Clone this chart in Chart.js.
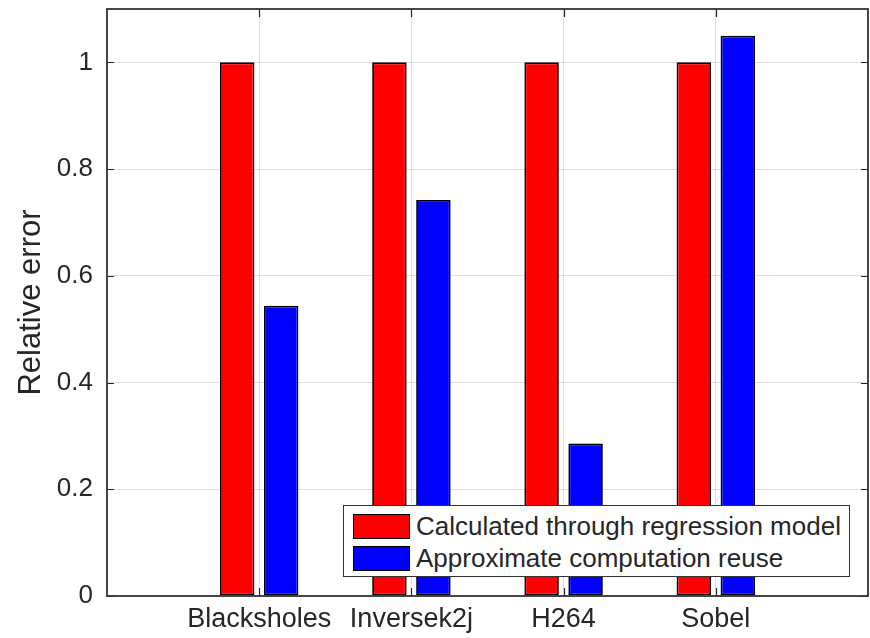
<!DOCTYPE html>
<html>
<head>
<meta charset="utf-8">
<title>Relative error</title>
<script src="https://cdn.jsdelivr.net/npm/chart.js@4/dist/chart.umd.min.js"></script>
<style>
  html, body { margin: 0; padding: 0; background: #fff; }
  #wrap { position: relative; width: 870px; height: 638px; }
  #legend {
    position: absolute; left: 343px; top: 505px; width: 505px; height: 70px;
    border: 1.5px solid #333; background: #fff; box-sizing: content-box;
    font-family: 'Liberation Sans', Arial, Helvetica, sans-serif; font-size: 26px; color: #262626;
  }
  #legend .row { position: absolute; left: 9px; height: 25px; display: flex; align-items: center; white-space: nowrap; }
  #legend .sw { width: 55px; height: 23px; border: 1.8px solid #000; margin-right: 6px; flex: none; }
</style>
</head>
<body>
<div id="wrap">
  <canvas id="c" width="870" height="638"></canvas>
  <div id="legend"></div>
</div>
<script>
// Benchmarks along the x axis
const categories = ['Blacksholes', 'Inversek2j', 'H264', 'Sobel'];
// Relative error per benchmark
const regressionModel = [1, 1, 1, 1];
const computationReuse = [0.544, 0.742, 0.286, 1.05];
// Y axis ticks
const yTicks = [0, 0.2, 0.4, 0.6, 0.8, 1];
const seriesNames = ['Calculated through regression model', 'Approximate computation reuse'];

const FONT = "'Liberation Sans', Arial, Helvetica, sans-serif";
const INK = '#262626';

const toPoints = vals => vals.map((v, i) => ({ x: i + 1, y: v }));

// Keep the plot area fixed: no extra room for overhanging tick labels
const noOverhang = s => { s.paddingTop = 0; s.paddingBottom = 0; s.paddingLeft = 0; s.paddingRight = 0; };

// Box around the axes with inward tick marks on all four sides
const axesBox = {
  id: 'axesBox',
  afterDatasetsDraw(chart) {
    const { ctx, chartArea: a, scales: { x, y } } = chart;
    ctx.save();
    ctx.strokeStyle = INK;
    ctx.lineWidth = 1.2;
    ctx.beginPath();
    y.ticks.forEach(t => {
      const py = Math.round(y.getPixelForValue(t.value)) + 0.5;
      ctx.moveTo(a.left, py); ctx.lineTo(a.left + 7, py);
      ctx.moveTo(a.right, py); ctx.lineTo(a.right - 7, py);
    });
    x.ticks.forEach(t => {
      const px = Math.round(x.getPixelForValue(t.value)) + 0.5;
      ctx.moveTo(px, a.bottom); ctx.lineTo(px, a.bottom - 8);
      ctx.moveTo(px, a.top); ctx.lineTo(px, a.top + 8);
    });
    ctx.stroke();
    ctx.strokeStyle = '#333';
    ctx.lineWidth = 1.8;
    ctx.strokeRect(a.left, a.top, a.right - a.left, a.bottom - a.top);
    ctx.restore();
  }
};

const chart = new Chart(document.getElementById('c'), {
  type: 'bar',
  data: {
    datasets: [
      {
        label: seriesNames[0],
        data: toPoints(regressionModel),
        backgroundColor: '#ff0000',
        borderColor: '#000',
        borderWidth: 1.8,
        borderSkipped: false
      },
      {
        label: seriesNames[1],
        data: toPoints(computationReuse),
        backgroundColor: '#0000ff',
        borderColor: '#000',
        borderWidth: 1.8,
        borderSkipped: false
      }
    ]
  },
  options: {
    responsive: false,
    animation: false,
    events: [],
    categoryPercentage: 0.578,
    barPercentage: 0.784,
    layout: { padding: { top: 9, right: 2, left: 0, bottom: 0 } },
    plugins: { legend: { display: false }, tooltip: { enabled: false } },
    scales: {
      x: {
        type: 'linear',
        min: 0,
        max: 5,
        offset: false,
        afterBuildTicks: s => { s.ticks = categories.map((_, i) => ({ value: i + 1 })); },
        afterFit: s => { s.height = 42; noOverhang(s); },
        border: { display: false },
        grid: { color: '#dedede', lineWidth: 1, drawTicks: false, offset: false },
        ticks: {
          autoSkip: false,
          maxRotation: 0,
          padding: 7,
          color: INK,
          font: { family: FONT, size: 27 },
          callback: v => categories[Math.round(v) - 1] ?? ''
        }
      },
      y: {
        min: 0,
        max: 1.1,
        afterBuildTicks: s => { s.ticks = yTicks.map(v => ({ value: v })); },
        afterFit: s => { s.width = 107; noOverhang(s); },
        border: { display: false },
        grid: { color: '#dedede', lineWidth: 1, drawTicks: false },
        ticks: {
          padding: 14,
          color: INK,
          font: { family: FONT, size: 26 },
          callback: v => String(Number(v.toFixed(1)))
        },
        title: {
          display: true,
          text: 'Relative error',
          color: INK,
          font: { family: FONT, size: 31 },
          padding: { top: 13, bottom: 0 }
        }
      }
    }
  },
  plugins: [axesBox]
});

// Legend box inside the axes, built from the chart's datasets
const legendEl = document.getElementById('legend');
chart.data.datasets.forEach((ds, i) => {
  const row = document.createElement('div');
  row.className = 'row';
  row.style.top = (8 + i * 32) + 'px';
  const sw = document.createElement('span');
  sw.className = 'sw';
  sw.style.background = ds.backgroundColor;
  const txt = document.createElement('span');
  txt.textContent = ds.label;
  row.appendChild(sw);
  row.appendChild(txt);
  legendEl.appendChild(row);
});
</script>
</body>
</html>
